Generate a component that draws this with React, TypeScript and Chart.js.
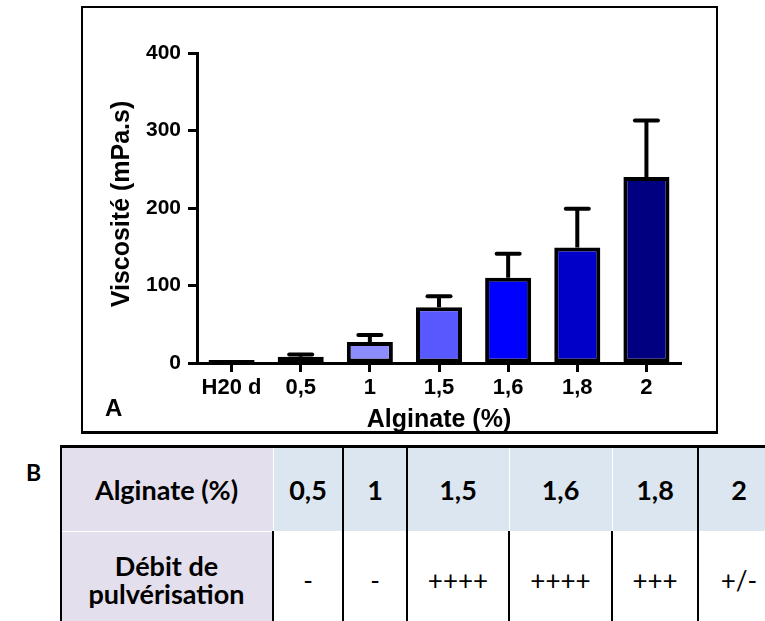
import React, { useEffect, useRef } from "react";
import { Chart, registerables } from "chart.js";

Chart.register(...registerables);

// ---- data ----
const categories = ["H20 d", "0,5", "1", "1,5", "1,6", "1,8", "2"];
const meanViscosity = [1, 8, 27, 72, 110, 149, 240];
const sdViscosity = [0, 3, 9, 14, 31, 50, 73];
const barColors = ["#ffffff", "#8080ee", "#8c8cff", "#5858ff", "#0000ff", "#0000c8", "#000080"];
const yMin = 0;
const yMax = 400;
const yStep = 100;
const yTitle = "Viscosité (mPa.s)";
const xTitle = "Alginate (%)";
const panelA = "A";
const panelB = "B";
const tableHeader = ["Alginate (%)", "0,5", "1", "1,5", "1,6", "1,8", "2"];
const tableRowLabel = ["Débit de", "pulvérisation"];
const tableRow = ["-", "-", "++++", "++++", "+++", "+/-"];

// ---- layout ----
const CHART_FONT = "'Liberation Sans', Arial, sans-serif";
const TABLE_FONT = "Lato, 'Open Sans', sans-serif";
const colEdges = [60, 273, 343, 407, 509, 612, 698, 780];
const rowEdges = [446, 531, 629];
const LAVENDER = "#e4dfec";
const LIGHTBLUE = "#dce6f1";

const errorBarPlugin = {
  id: "errorBars",
  beforeDatasetsDraw(chart: any) {
    const ctx = chart.ctx;
    const meta = chart.getDatasetMeta(0);
    const y = chart.scales.y;
    ctx.save();
    ctx.strokeStyle = "#000";
    ctx.lineWidth = 4;
    meta.data.forEach((bar: any, i: number) => {
      const sd = sdViscosity[i];
      if (!sd) return;
      const x = bar.x;
      const yTop = y.getPixelForValue(meanViscosity[i]);
      const yEnd = y.getPixelForValue(meanViscosity[i] + sd);
      ctx.lineCap = "butt";
      ctx.beginPath();
      ctx.moveTo(x, yTop);
      ctx.lineTo(x, yEnd);
      ctx.stroke();
      ctx.lineCap = "round";
      ctx.beginPath();
      ctx.moveTo(x - 11.5, yEnd);
      ctx.lineTo(x + 11.5, yEnd);
      ctx.stroke();
    });
    ctx.restore();
  },
};

const textPlugin = {
  id: "panelTexts",
  afterDraw(chart: any) {
    const ctx = chart.ctx;
    const ca = chart.chartArea;
    ctx.save();
    ctx.fillStyle = "#000";
    ctx.font = `bold 25px ${CHART_FONT}`;
    ctx.textAlign = "center";
    ctx.textBaseline = "middle";
    ctx.translate(ca.left - 75, (ca.top + ca.bottom) / 2 - 4);
    ctx.rotate(-Math.PI / 2);
    ctx.fillText(yTitle, 0, 0);
    ctx.restore();
    ctx.save();
    ctx.fillStyle = "#000";
    ctx.font = `bold 24px ${CHART_FONT}`;
    ctx.textAlign = "left";
    ctx.textBaseline = "alphabetic";
    ctx.fillText(panelA, ca.left - 92, ca.bottom + 53);
    ctx.restore();
  },
};

function ViscosityChart() {
  const ref = useRef<HTMLCanvasElement | null>(null);
  useEffect(() => {
    if (!ref.current) return;
    const chart = new Chart(ref.current, {
      type: "bar",
      data: {
        labels: categories,
        datasets: [
          {
            data: meanViscosity,
            backgroundColor: barColors,
            borderColor: "#000",
            borderWidth: 4,
            borderSkipped: false,
            barPercentage: 0.666,
            categoryPercentage: 1,
            minBarLength: 3,
          },
        ],
      },
      options: {
        animation: false,
        responsive: false,
        devicePixelRatio: 1,
        layout: { padding: { left: 0, top: 45, right: 35, bottom: 0 } },
        plugins: { legend: { display: false }, tooltip: { enabled: false }, title: { display: false } },
        scales: {
          x: {
            offset: true,
            grid: { display: true, drawOnChartArea: false, drawTicks: true, offset: false, tickLength: 9, tickWidth: 3, tickColor: "#000" },
            border: { display: true, color: "#000", width: 3 },
            ticks: { color: "#000", font: { family: CHART_FONT, size: 22, weight: "bold" }, padding: 3, maxRotation: 0, autoSkip: false },
            title: { display: true, text: xTitle, color: "#000", font: { family: CHART_FONT, size: 25, weight: "bold", lineHeight: 0.85 }, padding: { top: 0, bottom: 0 } },
            afterFit: (s: any) => { s.height = 68; },
          },
          y: {
            min: yMin,
            max: yMax,
            grid: { display: true, drawOnChartArea: false, drawTicks: true, tickLength: 9, tickWidth: 3, tickColor: "#000" },
            border: { display: true, color: "#000", width: 3 },
            ticks: { stepSize: yStep, color: "#000", font: { family: CHART_FONT, size: 21, weight: "bold" }, padding: 7 },
            afterFit: (s: any) => { s.width = 114; },
          },
        },
      } as any,
      plugins: [errorBarPlugin, textPlugin],
    });
    return () => chart.destroy();
  }, []);
  return <canvas ref={ref} width={633} height={423} style={{ position: "absolute", left: 83, top: 8, width: 633, height: 423 }} />;
}

const centerBox = (width: number, height: number): any => ({
  position: "absolute",
  left: 0,
  top: 0,
  width,
  height,
  display: "flex",
  flexDirection: "column",
  alignItems: "center",
  justifyContent: "center",
  textAlign: "center",
  lineHeight: "28px",
});

function DataTable() {
  const cells: any[] = [];
  const lines: any[] = [];
  const h0 = rowEdges[0], h1 = rowEdges[1], h2 = rowEdges[2];
  for (let c = 0; c < colEdges.length - 1; c++) {
    const left = colEdges[c];
    const width = colEdges[c + 1] - colEdges[c];
    cells.push(
      <div key={`h${c}`} style={{ position: "absolute", left, top: h0, width, height: h1 - h0, background: c === 0 ? LAVENDER : LIGHTBLUE }}>
        <div style={{ ...centerBox(width, h1 - h0 + 3), fontWeight: 700, fontSize: 27 }}>{tableHeader[c]}</div>
      </div>
    );
    cells.push(
      <div key={`r${c}`} style={{ position: "absolute", left, top: h1, width, height: h2 - h1, background: c === 0 ? LAVENDER : "#ffffff" }}>
        {c === 0 ? (
          <div style={{ ...centerBox(width, h2 - h1), fontWeight: 700, fontSize: 27 }}>
            {tableRowLabel.map((t, i) => (
              <div key={i}>{t}</div>
            ))}
          </div>
        ) : (
          <div style={{ ...centerBox(width, h2 - h1), fontWeight: 400, fontSize: 26 }}>{tableRow[c - 1]}</div>
        )}
      </div>
    );
  }
  lines.push(<div key="rowsep" style={{ position: "absolute", left: colEdges[0], top: h1, width: colEdges[7] - colEdges[0], height: 1, background: "#ffffff" }} />);
  [1, 4, 5].forEach((ci) =>
    lines.push(<div key={`lw${ci}`} style={{ position: "absolute", left: colEdges[ci], top: h0, width: 1, height: h1 - h0, background: "#ffffff" }} />)
  );
  [2, 3, 6].forEach((ci) =>
    lines.push(<div key={`hb${ci}`} style={{ position: "absolute", left: colEdges[ci] - 1, top: h0, width: 2, height: h1 - h0, background: "#000" }} />)
  );
  [1, 2, 3, 4, 5, 6].forEach((ci) =>
    lines.push(<div key={`rb${ci}`} style={{ position: "absolute", left: colEdges[ci] - 1, top: h1, width: 2, height: h2 - h1, background: "#000" }} />)
  );
  lines.push(<div key="left" style={{ position: "absolute", left: colEdges[0], top: h0, width: 2, height: h2 - h0, background: "#000" }} />);
  lines.push(<div key="top" style={{ position: "absolute", left: colEdges[0], top: h0 - 1, width: colEdges[7] - colEdges[0], height: 3, background: "#000" }} />);
  return (
    <div style={{ fontFamily: TABLE_FONT, color: "#000" }}>
      {cells}
      {lines}
      <div style={{ position: "absolute", left: 26, top: 458, lineHeight: "28px", fontFamily: TABLE_FONT, fontWeight: 700, fontSize: 23 }}>{panelB}</div>
    </div>
  );
}

export default function App() {
  return (
    <div style={{ position: "absolute", left: 0, top: 0, width: 765, height: 621, overflow: "hidden", background: "#fff" }}>
      <div style={{ position: "absolute", left: 81, top: 6, width: 637, height: 428, boxSizing: "border-box", border: "2px solid #000", borderBottomWidth: 3 }} />
      <ViscosityChart />
      <DataTable />
    </div>
  );
}
